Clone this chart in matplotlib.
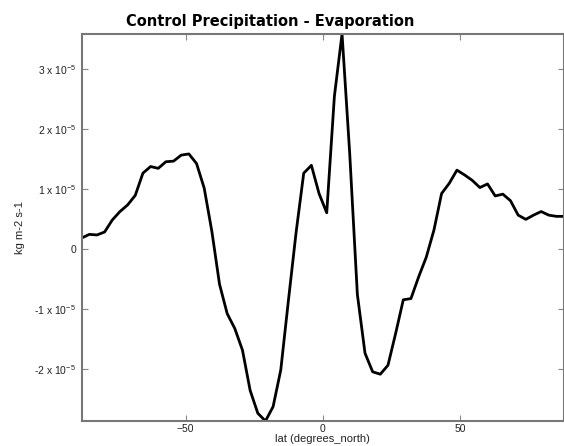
import matplotlib
matplotlib.use("Agg")
import matplotlib.pyplot as plt
from matplotlib.ticker import FixedLocator, FuncFormatter

# Gaussian-grid latitudes (degrees north)
lat = [-87.86, -85.10, -82.31, -79.53, -76.74, -73.95, -71.16, -68.37,
       -65.58, -62.79, -60.00, -57.21, -54.42, -51.63, -48.84, -46.04,
       -43.25, -40.46, -37.67, -34.88, -32.09, -29.30, -26.51, -23.72,
       -20.93, -18.14, -15.35, -12.56, -9.77, -6.98, -4.19, -1.40,
       1.40, 4.19, 6.98, 9.77, 12.56, 15.35, 18.14, 20.93,
       23.72, 26.51, 29.30, 32.09, 34.88, 37.67, 40.46, 43.25,
       46.04, 48.84, 51.63, 54.42, 57.21, 60.00, 62.79, 65.58,
       68.37, 71.16, 73.95, 76.74, 79.53, 82.31, 85.10, 87.86]

# Zonal mean P - E in units of 1e-5 kg m-2 s-1
p_minus_e = [0.19, 0.25, 0.24, 0.29, 0.49, 0.63, 0.74, 0.90,
             1.27, 1.38, 1.35, 1.46, 1.47, 1.57, 1.59, 1.43,
             1.02, 0.30, -0.58, -1.07, -1.32, -1.68, -2.35, -2.73,
             -2.86, -2.62, -2.01, -0.85, 0.28, 1.27, 1.40, 0.93,
             0.61, 2.55, 3.59, 1.60, -0.75, -1.73, -2.04, -2.08,
             -1.93, -1.40, -0.84, -0.82, -0.46, -0.13, 0.32, 0.93,
             1.10, 1.32, 1.24, 1.15, 1.03, 1.09, 0.89, 0.92,
             0.81, 0.57, 0.50, 0.57, 0.63, 0.57, 0.55, 0.55]

scale = 1e-5
values = [v * scale for v in p_minus_e]

x_ticks = [-50, 0, 50]
y_ticks = [-2e-5, -1e-5, 0.0, 1e-5, 2e-5, 3e-5]

title = "Control Precipitation - Evaporation"
x_label = "lat (degrees_north)"
y_label = "kg m-2 s-1"

label_font = "Liberation Sans"
plt.rcParams["mathtext.fontset"] = "custom"
plt.rcParams["mathtext.rm"] = label_font
plt.rcParams["mathtext.it"] = label_font

fig = plt.figure(figsize=(5.64, 4.46), dpi=100)
ax = fig.add_axes([0.145, 0.056, 0.855, 0.868])

ax.plot(lat, values, color="black", linewidth=2.0)
ax.set_xlim(min(lat), max(lat))
ax.set_ylim(min(values), max(values))


def sci_label(v, pos):
    if abs(v) < 1e-12:
        return "0"
    m = int(round(v / scale))
    return r"%d x 10$^{\mathrm{-5}}$" % m


ax.xaxis.set_major_locator(FixedLocator(x_ticks))
ax.yaxis.set_major_locator(FixedLocator(y_ticks))
ax.yaxis.set_major_formatter(FuncFormatter(sci_label))
ax.xaxis.set_major_formatter(FuncFormatter(lambda v, p: ("\u2212%d" % abs(v)) if v < 0 else "%d" % v))

ax.tick_params(direction="in", top=True, right=True, length=4, width=0.8,
               color="#888888", labelsize=7.5, labelcolor="#222222")
ax.tick_params(axis="x", pad=2)
ax.tick_params(axis="y", pad=4)
for lbl in ax.get_xticklabels() + ax.get_yticklabels():
    lbl.set_fontfamily(label_font)

for s in ax.spines.values():
    s.set_color("#777777")
    s.set_linewidth(1.5)

ax.set_xlabel(x_label, fontsize=8, color="#222222", labelpad=0, family=label_font)
ax.set_ylabel(y_label, fontsize=8, color="#222222", labelpad=7, family=label_font)
ax.set_title(title, fontsize=10.5, fontweight="bold", x=0.39, pad=6)

fig.savefig("out.png", dpi=100)
